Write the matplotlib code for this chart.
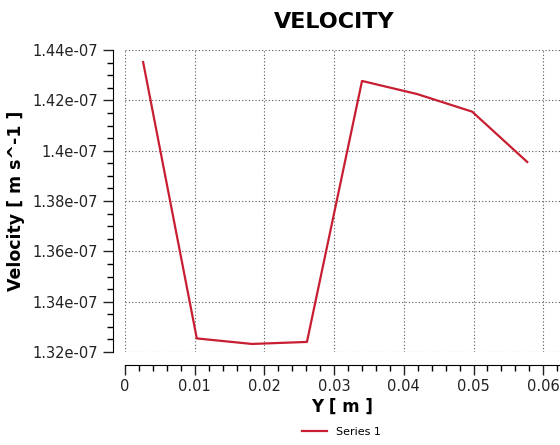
import matplotlib
matplotlib.use("Agg")
import matplotlib.pyplot as plt
from matplotlib.ticker import MultipleLocator, AutoMinorLocator, FuncFormatter

# dados
y_pos = [0.0026, 0.0103, 0.0182, 0.0261, 0.0340, 0.0419, 0.0498, 0.0577]
velocidade = [1.4352e-07, 1.3254e-07, 1.3232e-07, 1.3240e-07,
              1.4277e-07, 1.4225e-07, 1.4155e-07, 1.3955e-07]
serie = "Series 1"

plt.rcParams['font.family'] = ['DejaVu Sans']

fig = plt.figure(figsize=(5.6, 4.45), dpi=100)
ax = fig.add_axes([125/560, 1 - 352/445, (560-125)/560, (352-50)/445])

ax.plot(y_pos, velocidade, color='#c81e32', linewidth=1.6, label=serie)

ax.set_xlim(0, 0.0624)
ax.set_ylim(1.32e-07, 1.44e-07)

ax.xaxis.set_major_locator(MultipleLocator(0.01))
ax.xaxis.set_minor_locator(AutoMinorLocator(5))
ax.yaxis.set_major_locator(MultipleLocator(0.02e-07))
ax.yaxis.set_minor_locator(AutoMinorLocator(4))
ax.xaxis.set_major_formatter(FuncFormatter(lambda v, p: "%g" % round(v, 4)))
ax.yaxis.set_major_formatter(FuncFormatter(lambda v, p: "%g" % float("%.3g" % v)))

ax.grid(True, which='major', color='#555555', linestyle=(0, (1, 2)), linewidth=0.8)

for s in ['top', 'right']:
    ax.spines[s].set_visible(False)
ax.spines['left'].set_position(('outward', 9))
ax.spines['bottom'].set_position(('outward', 9))

ax.tick_params(which='major', direction='out', length=7, width=1, labelsize=10.5, colors='#222222')
ax.tick_params(which='minor', direction='out', length=4, width=1)

ax.set_title("VELOCITY", fontsize=16, fontweight='bold', pad=16, x=0.48)
ax.set_xlabel("Y [ m ]", fontsize=12, fontweight='bold', labelpad=3, x=0.5)
ax.set_ylabel("Velocity [ m s^-1 ]", fontsize=12.5, fontweight='bold', labelpad=5)

fig.legend(loc='lower center', bbox_to_anchor=(0.61, -0.005), frameon=False,
           fontsize=8, handlelength=2.2)

fig.savefig("out.png", dpi=100)
